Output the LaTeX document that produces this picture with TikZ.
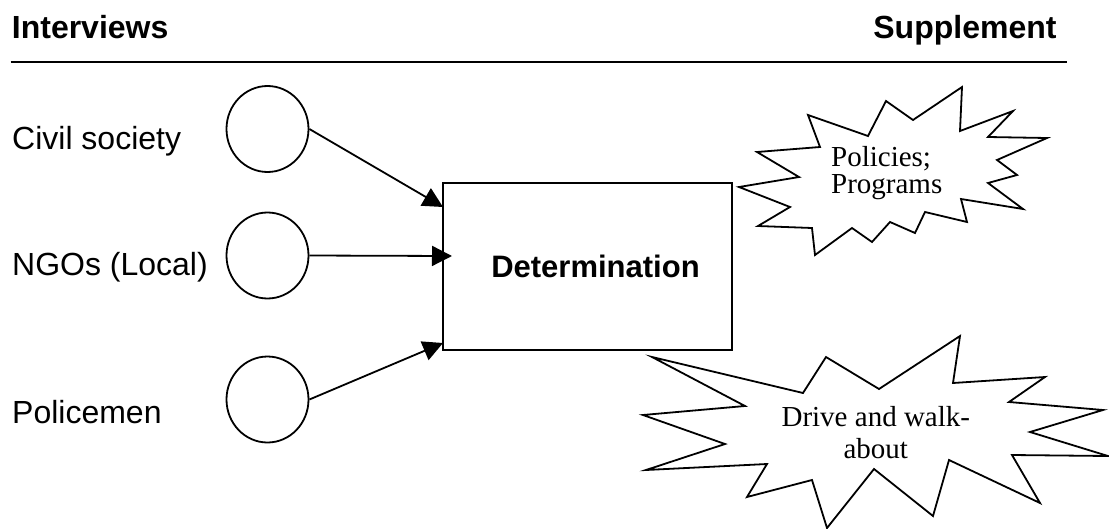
\documentclass[tikz,border=0pt]{standalone}
\usepackage{fontspec}
\setmainfont{Liberation Sans}
\newfontfamily\tnr{Liberation Serif}
\usetikzlibrary{arrows.meta,shapes.geometric}
\begin{document}
\begin{tikzpicture}[x=1pt,y=-1pt,
  lbl/.style={anchor=base west,inner sep=0pt,font=\fontsize{32}{38}\selectfont},
  hdr/.style={inner sep=0pt,font=\fontsize{32}{38}\selectfont\bfseries},
  src/.style={draw,ellipse,line width=1.8pt,minimum width=82pt,minimum height=86pt,inner sep=0pt},
  detbox/.style={draw,rectangle,line width=1.8pt,minimum width=289pt,minimum height=167pt,inner sep=0pt,font=\fontsize{31}{36}\selectfont\bfseries},
  conn/.style={line width=1.8pt,-{Triangle[length=20pt,width=20pt]}},
  burst/.style={draw,line width=1.8pt,line join=miter,fill=white},
  bursttext/.style={inner sep=0pt,align=center}
]
\useasboundingbox (0,0) rectangle (1109,528);

% header
\node[hdr,anchor=base west] (hint) at (11.7,38.3) {Interviews};
\node[hdr,anchor=base east] (hsup) at (1056.7,38.3) {Supplement};
\coordinate (rl) at (10.7,62.3);
\coordinate (rr) at (1066.7,62.3);
\draw[line width=2pt] (rl) -- (rr);

% left labels
\node[lbl] (lcivil) at (12,149.3) {Civil society};
\node[lbl] (lngo) at (12,275) {NGOs (Local)};
\node[lbl] (lpol) at (12,423.6) {Policemen};

% circles
\node[src] (c1) at (267.5,129) {};
\node[src] (c2) at (267.5,255.5) {};
\node[src] (c3) at (267.5,399.5) {};

% box
\node[detbox] (det) at (587.5,266.5) {\hspace*{16pt}Determination};

% arrow ends
\coordinate (e1) at (443,207);
\coordinate (e2) at (452,256);
\coordinate (e3) at (443,343);
\draw[conn] (c1.east) -- (e1);
\draw[conn] (c2.east) -- (e2);
\draw[conn] (c3.east) -- (e3);

% starburst 1
\draw[burst] (739,187) -- (799,177) -- (757,152) -- (820,147) -- (808,115)
  -- (868,136) -- (886,101) -- (913,120) -- (962,87) -- (960,131)
  -- (1013,111) -- (988,137) -- (1047,138) -- (997,160) -- (1017,175)
  -- (988,183) -- (1023,209) -- (961,199) -- (967,222) -- (925,212)
  -- (915,233) -- (890,222) -- (872,242) -- (852,228) -- (815,255)
  -- (812,228) -- (758,226) -- (790,207) -- cycle;
\node[bursttext,align=left,font=\tnr\fontsize{29}{26.7}\selectfont] (pol) at (886.7,173.3) {Policies;\\Programs};

% starburst 2
\draw[burst] (652,357) -- (803,393) -- (826,357) -- (879,389) -- (960,336)
  -- (953,383) -- (1045,377) -- (1009,402) -- (1103,410) -- (1030,432)
  -- (1108,456) -- (1012,455) -- (1040,503) -- (949,460) -- (933,516)
  -- (874,469) -- (827,528) -- (812,480) -- (747,497) -- (767,464)
  -- (646,470) -- (725,444) -- (643,415) -- (745,406) -- cycle;
\node[bursttext,font=\tnr\fontsize{29}{32.3}\selectfont] (drv) at (875.8,432.3) {Drive and walk-\\about};
\end{tikzpicture}
\end{document}
